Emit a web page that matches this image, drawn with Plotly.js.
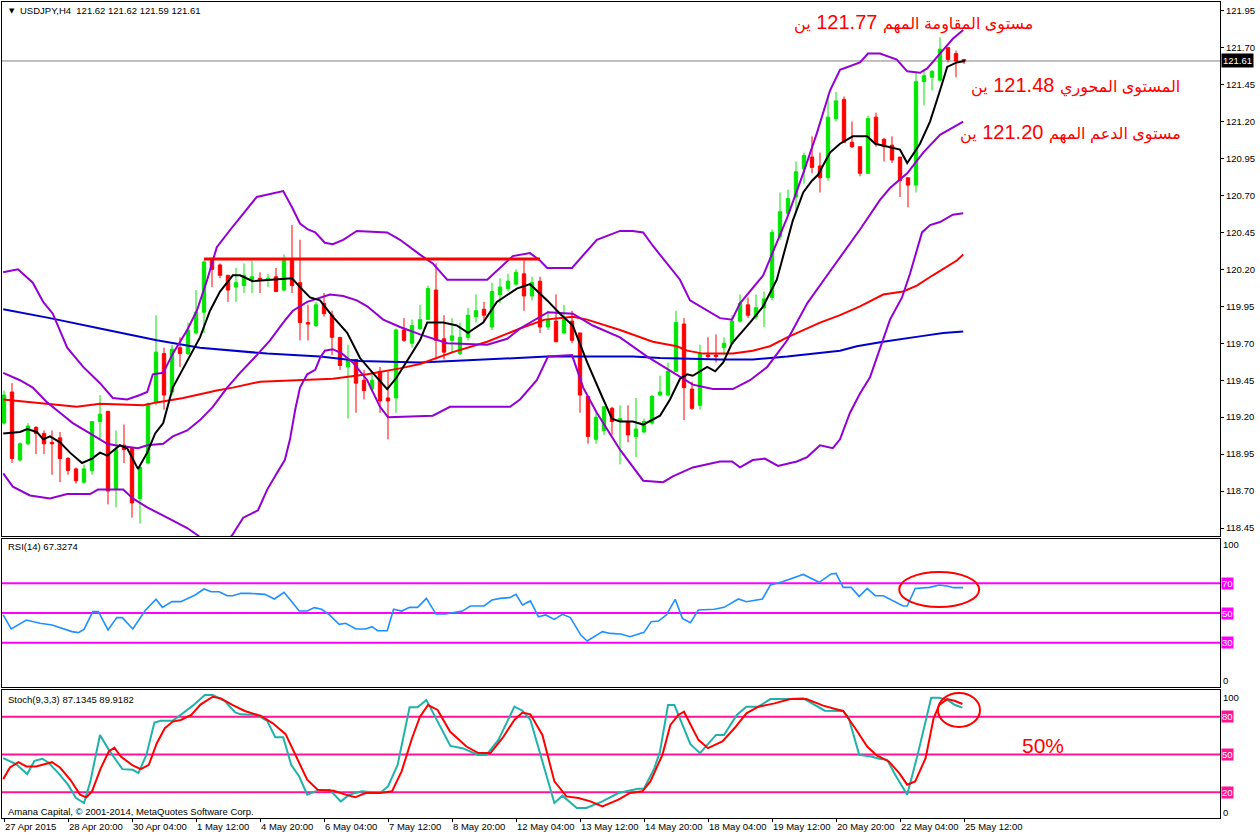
<!DOCTYPE html>
<html><head><meta charset="utf-8">
<script src="https://cdn.plot.ly/plotly-3.0.1.min.js"></script>
<style>html,body{margin:0;padding:0;background:#fff;}#chart{width:1260px;height:837px;}</style>
</head><body><div id="chart"></div>
<script>
// ---------- data ----------
const timeLabels = ['27 Apr 2015','28 Apr 20:00','30 Apr 04:00','1 May 12:00','4 May 20:00','6 May 04:00','7 May 12:00','8 May 20:00','12 May 04:00','13 May 12:00','14 May 20:00','18 May 04:00','19 May 12:00','20 May 20:00','22 May 04:00','25 May 12:00'];
const labelBars = [0,8,16,24,32,40,48,56,64,72,80,88,96,104,112,120];

const opens = [119.16,119.37,118.91,119.02,119.13,119.09,119.03,119.06,118.92,118.85,
118.76,118.84,119.17,119.24,118.71,119.01,118.99,118.65,118.89,119.30,
119.63,119.37,119.67,119.63,119.77,119.91,120.26,120.23,120.16,120.08,
120.09,120.13,120.14,120.13,120.15,120.06,120.26,120.11,119.84,119.82,
119.97,119.89,119.74,119.54,119.59,119.45,119.39,119.51,119.33,119.33,
119.79,119.70,119.80,119.86,120.06,119.73,119.72,119.63,119.74,119.88,
119.93,119.81,120.03,120.07,120.10,120.17,120.02,120.12,119.81,119.85,
119.77,119.85,119.77,119.34,119.05,119.11,119.26,119.17,119.17,119.07,
119.10,119.16,119.35,119.35,119.51,119.83,119.39,119.28,119.62,119.62,
119.67,119.70,119.85,119.96,119.88,119.94,120.01,120.42,120.58,120.69,
120.88,120.96,120.90,120.82,121.22,121.35,121.06,121.03,120.85,121.23,
121.08,121.04,120.96,120.82,120.77,121.47,121.50,121.48,121.70,121.66,
121.62];
const highs = [119.38,119.43,119.03,119.16,119.14,119.11,119.11,119.10,118.93,118.86,
118.88,119.17,119.35,119.24,119.11,119.15,119.00,118.88,119.30,119.89,
119.67,119.69,119.74,119.84,120.06,120.26,120.28,120.24,120.16,120.21,
120.24,120.26,120.18,120.17,120.21,120.30,120.50,120.40,119.96,119.98,
120.04,119.92,119.74,119.69,119.59,119.52,119.51,119.54,119.51,119.80,
119.87,119.86,119.96,120.09,120.24,119.89,119.87,119.84,119.94,120.03,
119.98,120.11,120.14,120.17,120.20,120.26,120.15,120.15,119.92,120.03,
119.96,119.92,119.77,119.34,119.23,119.27,119.27,119.28,119.28,119.33,
119.19,119.35,119.48,119.57,119.92,119.87,119.44,119.69,119.74,119.76,
119.74,119.89,120.03,120.01,120.03,120.05,120.47,120.72,120.74,120.93,
120.99,121.10,120.99,121.38,121.40,121.37,121.20,121.03,121.24,121.26,
121.09,121.10,120.96,120.82,121.53,121.55,121.55,121.77,121.70,121.68,
121.62];
const lows = [119.15,118.89,118.90,119.01,118.95,118.95,118.81,118.76,118.81,118.75,
118.75,118.81,119.05,118.61,118.59,118.89,118.52,118.48,118.88,119.28,
119.25,119.35,119.54,119.62,119.76,119.77,120.08,120.14,119.98,119.98,
120.04,120.04,120.04,120.08,120.05,120.05,120.04,119.72,119.72,119.81,
119.88,119.62,119.52,119.19,119.23,119.32,119.37,119.23,119.05,119.23,
119.71,119.67,119.79,119.86,119.59,119.59,119.64,119.62,119.72,119.84,
119.84,119.79,119.97,120.05,120.09,119.92,119.99,119.77,119.79,119.71,
119.76,119.70,119.23,119.02,119.02,119.08,119.08,118.88,119.03,118.93,
119.09,119.15,119.34,119.34,119.51,119.18,119.25,119.25,119.60,119.57,
119.62,119.69,119.84,119.87,119.86,119.81,119.99,120.40,120.57,120.58,
120.78,120.85,120.72,120.80,121.20,121.06,121.02,120.83,120.85,121.03,
120.93,120.92,120.69,120.62,120.72,121.31,121.41,121.47,121.60,121.50,
121.59];
const closes = [119.35,118.92,119.02,119.14,119.09,119.02,119.02,118.92,118.84,118.77,
118.85,119.17,119.22,118.70,118.98,118.98,118.62,118.86,119.29,119.64,
119.35,119.66,119.63,119.79,119.91,120.25,120.20,120.16,120.06,120.11,
120.16,120.15,120.13,120.14,120.05,120.26,120.09,119.84,119.83,119.96,
119.90,119.74,119.55,119.59,119.43,119.38,119.45,119.31,119.31,119.79,
119.72,119.82,119.86,120.07,119.72,119.64,119.75,119.74,119.89,119.92,
119.89,120.05,120.08,120.12,120.18,120.02,120.11,119.81,119.86,119.71,
119.86,119.72,119.35,119.07,119.20,119.27,119.17,119.19,119.08,119.12,
119.17,119.34,119.37,119.51,119.84,119.40,119.26,119.63,119.61,119.61,
119.70,119.85,119.97,119.89,119.94,120.00,120.45,120.59,120.68,120.86,
120.97,120.89,120.82,121.23,121.34,121.06,121.03,120.85,121.22,121.05,
121.03,120.94,120.80,120.77,121.47,121.51,121.54,121.69,121.62,121.61,
121.61];

const blackMaBars = [-0.1,2,2.9,4.1,4.9,5.75,7,8.25,9.75,11,12,12.9,14.5,15.4,16.75,17.9,18.9,19.9,21.1,22.4,23.6,24.5,25.75,27,28.6,29.5,31.1,33.6,36,37,38.25,39.5,41.1,42.9,44.5,46.1,47.9,49.1,50.75,52,52.9,54.9,56.6,58,59.9,61.6,64.1,65.75,67.9,69.5,71.1,72.9,74.75,76,77,78.6,79.9,82,83.25,84.5,85.4,86.1,87.9,88.9,89.9,91,93.25,94.9,96.6,98.6,99.9,101,101.75,103.25,104.5,106.1,107.9,108.9,112,112.9,114.5,115.75,117,117.9,119.1,120.1];
const blackMaVals = [119.09,119.10,119.12,119.10,119.05,119.07,119.03,118.96,118.89,118.92,118.96,118.94,119.01,118.99,118.85,118.96,119.09,119.16,119.40,119.53,119.66,119.74,119.92,120.05,120.16,120.16,120.12,120.13,120.14,120.08,120.01,119.99,119.88,119.77,119.60,119.50,119.39,119.47,119.61,119.72,119.84,119.84,119.82,119.77,119.84,119.98,120.07,120.10,119.99,119.90,119.82,119.57,119.34,119.19,119.17,119.17,119.15,119.21,119.32,119.46,119.49,119.48,119.54,119.51,119.57,119.70,119.84,119.95,120.13,120.53,120.72,120.80,120.84,120.99,121.05,121.10,121.10,121.05,121.01,120.92,121.05,121.20,121.41,121.57,121.60,121.61];

const redMaBars = [-0.1,3.6,9.1,12,17.4,19.1,22.4,26.6,28.6,32,37,41.1,45.4,49.5,52,56.1,60.4,64.5,67.6,71.1,72.9,77,81.1,84.1,85.4,87.4,91.1,93.6,95.75,97.9,102,104.5,107,109.9,112.4,114.1,116.1,119.1,119.9];
const redMaVals = [119.32,119.30,119.27,119.29,119.28,119.30,119.33,119.38,119.40,119.44,119.45,119.46,119.49,119.53,119.56,119.64,119.71,119.80,119.86,119.88,119.86,119.79,119.71,119.68,119.65,119.63,119.63,119.65,119.68,119.74,119.84,119.89,119.95,120.03,120.05,120.09,120.16,120.26,120.30];

const blueMaBars = [-0.1,5.75,12,19.1,24.5,32.9,39.5,44.5,52,60.4,67.9,78.6,82,89.5,93.6,97.9,104.5,106.6,109.9,114.9,117.4,119.9];
const blueMaVals = [119.93,119.87,119.80,119.72,119.67,119.63,119.61,119.58,119.57,119.59,119.61,119.61,119.60,119.59,119.59,119.61,119.65,119.68,119.71,119.75,119.77,119.78];

const bbUpperBars = [-0.1,1.75,3.6,4.9,6.1,7.9,9.9,12,13.6,15.4,17,17.9,18.6,19.9,21.1,22.9,24.1,25.4,26.6,28.6,31.6,34.1,34.9,36,37,38,38.9,40.1,41.1,42.4,44.1,47.9,49.5,52,53.6,55.4,60.4,63.6,65.75,67,67.9,71,74.1,77,78.6,79.9,81.1,84.5,85.75,89.5,91,92,94.9,97.9,99.9,101.6,103.25,104.5,107,108,109.5,111.6,112.9,114.5,115.4,117,118.6,119.9];
const bbUpperVals = [120.18,120.20,120.11,119.98,119.90,119.67,119.54,119.43,119.33,119.32,119.35,119.37,119.49,119.50,119.63,119.79,119.92,120.13,120.35,120.49,120.69,120.72,120.73,120.62,120.51,120.47,120.45,120.38,120.37,120.40,120.46,120.45,120.40,120.30,120.24,120.13,120.13,120.29,120.31,120.26,120.21,120.21,120.40,120.46,120.46,120.45,120.36,120.13,119.99,119.87,119.86,119.97,120.16,120.55,120.85,121.12,121.41,121.55,121.60,121.66,121.66,121.62,121.54,121.53,121.56,121.66,121.76,121.82];

const bbMidBars = [-0.1,2,3.6,5.4,7,8.6,10.75,12.9,13.9,15.4,16.75,17.9,19.9,21.1,22.9,24.5,26.1,27.9,29.5,31.6,33.25,34.9,36.1,37.9,39.5,40.75,42.4,44.1,45.4,47.4,49.5,52,55.4,60.4,62.9,64.5,68,71.1,73.6,77,80.4,83.6,86.1,88.6,91.1,93.25,95.4,97.9,100.4,102.9,104.5,107,109.5,110.75,112.9,114.9,117,119.9];
const bbMidVals = [119.50,119.45,119.40,119.30,119.23,119.16,119.09,119.02,119.01,119.00,118.99,119.01,119.02,119.07,119.11,119.18,119.27,119.40,119.50,119.62,119.72,119.84,119.92,119.98,120.01,120.03,120.02,119.99,119.95,119.86,119.81,119.76,119.70,119.69,119.73,119.80,119.91,119.90,119.82,119.74,119.61,119.50,119.42,119.39,119.39,119.45,119.54,119.72,119.97,120.16,120.28,120.47,120.67,120.75,120.85,120.99,121.11,121.20];

const bbLowerBars = [-0.1,1.1,3.25,5.75,7.9,10.75,11.75,14.9,16.1,17.9,20.4,22.9,24.25,26.4,28.5,29.9,31.75,32.9,34.1,35.1,35.75,36.4,37,37.9,38.9,39.5,40.1,41.1,42.25,43.6,45.4,47,48,52,53.6,55.75,63.25,64.5,66.6,68,71,72.4,74.1,77,79.9,82.4,83.6,86.1,89.5,91,92,93.6,95.1,96.75,99.1,100.4,102,103.6,104.5,105.75,107,108.25,109.5,110.75,112.25,113.25,114.75,115.75,117,118.6,119.9];
const bbLowerVals = [118.82,118.73,118.67,118.65,118.68,118.68,118.71,118.71,118.65,118.59,118.52,118.45,118.40,118.28,118.40,118.52,118.57,118.71,118.82,118.91,119.05,119.25,119.40,119.49,119.52,119.60,119.65,119.66,119.63,119.57,119.45,119.27,119.20,119.21,119.21,119.27,119.27,119.32,119.45,119.61,119.62,119.40,119.23,118.98,118.77,118.76,118.80,118.86,118.90,118.90,118.86,118.91,118.92,118.87,118.90,118.93,119.01,118.99,119.05,119.23,119.36,119.47,119.67,119.86,120.01,120.17,120.45,120.50,120.52,120.57,120.58];

const resistBars = [25, 67];
const resistLevel = 120.27;
const lastPrice = 121.61;
const priceTicks = [118.45,118.70,118.95,119.20,119.45,119.70,119.95,120.20,120.45,120.70,120.95,121.20,121.45,121.70,121.95];

const rsiBars = [-0.1,0.9,2.8,4.5,6,7,8.5,9.3,10,11.1,11.8,13,14.1,14.8,16.1,17.6,19,19.8,21,22.1,23.9,25,25.9,26.9,27.9,28.6,29.6,30.6,32.6,33.8,35,35.7,36.9,37.9,38.8,39.7,40.7,41.9,42.7,44,45.2,46,46.7,47.9,48.7,49.7,50.7,51.7,52.8,54,55.2,57.3,58.3,60,61,62,63.2,64,64.8,65.8,66.8,67.7,68.8,69.8,70.8,72.1,72.9,74.8,75.8,77.1,78.25,80,80.9,81.8,82.8,83.9,84.8,85.8,86.8,88.8,90,91.8,92.8,94.8,95.8,97.3,99.9,101.9,103.4,104,104.9,105.9,106.9,107.9,108.9,109.9,111.4,112.4,112.9,113.9,115.7,116.9,117.9,118.7,119.9];
const rsiVals = [48.7,39.3,45.3,43.1,41.9,40.2,37.5,36.8,39,50.9,50.9,38.6,46.9,46.9,39.3,51.3,59.2,53.8,57.6,57.6,62.1,66.1,64.3,64.3,61.6,61.6,63.2,63.2,62.5,59.4,63.9,59.4,51.3,51.3,53.6,52.5,48.7,42.4,43.1,39.3,39.3,40.8,38.1,38.1,52.5,51.3,53.8,53.8,59.8,49.3,49.3,51.3,54.7,54.7,58.7,59.8,60.3,62.5,55.4,58.1,47.5,48.7,45.7,49.1,46.9,35.2,31.2,37.5,36.3,35.9,34.1,37,44.2,44.6,48.7,59.2,46.4,43.5,52,52.5,53.8,59.4,57.6,59.4,68.8,71,75.9,70.6,76.2,76.6,67.2,67.2,61,66.5,61.6,61.6,57.6,54.7,54.7,66.5,67.2,68.8,68.1,67,67];
const rsiLevels = [70, 50, 30];

const stochKBars = [-0.1,1.5,2.9,3.8,4.8,5.5,6.8,8,9,10,10.8,12,13.1,14.8,16.1,16.8,17.8,18.8,19.6,21.1,22.6,23.6,25.1,26.1,27.6,28.9,29.6,31.6,32.9,33.9,34.9,35.9,36.9,37.9,38.9,40.7,42.1,43.2,44.7,47,48,49.2,50.7,51.7,52.8,54,55.8,57.3,59.3,60.3,61.8,63.8,64.8,65.8,67.1,68.8,69.8,71.6,72.8,74.8,76.8,78.25,79.25,80,81.3,82,83,83.8,85.8,87,89,90,91.6,92.8,94.3,95.8,98.3,99.9,101.4,102.6,104.9,105.6,106.9,108.4,109.4,110.4,111.4,112.9,114.2,115.2,115.9,116.9,117.9,118.9,119.8];
const stochKVals = [47.1,42.4,34.5,45,46.6,43.9,35.3,26.1,15.5,11.6,28.7,65.5,53.7,38.4,37.9,35.3,49.7,75.3,76.8,76.8,83.9,88.7,97.1,97.1,92.4,83.4,81.8,81.3,76.6,63.7,63.7,41.8,32.6,18.2,20.8,22.1,12.9,18.2,20.8,19.5,24.7,41.8,87.4,87.4,93.2,78.7,56.8,55,49.7,49.7,61.6,87.9,84.7,77.4,48.4,11.6,17.4,7.6,7.6,12.9,19.5,21.3,22.9,22.9,39.2,52.4,89.2,89.2,58.2,51.1,65.5,65.5,81.3,87.9,87.9,93.9,93.9,94.5,89.2,84.7,84.5,78.7,49.7,48.4,46.6,45.8,33.9,18.2,49.7,76.1,95,95,93.2,89.2,87.1];
const stochDBars = [-0.1,0.75,1.8,2.8,4,5.3,6,7,8.3,9.5,10.3,11,12.1,13.1,13.8,14.6,16.1,17.1,18.1,19.1,20.1,21.1,22.1,23.4,24.6,26.1,27.1,28.6,30.1,32.1,33.6,35.2,36.4,37.9,39.2,41.2,42.7,43.9,45.2,47,48.5,49.7,51,52,53,54.2,55.75,57.8,59.3,60.8,62.3,63.8,64.8,65.8,67.3,68.8,70.3,71.8,73.3,74.8,76.8,78.25,79.8,80.8,82.3,83.3,84.3,85,86.8,88,89.8,91.3,92.8,94.3,96.3,98.3,100.3,102.4,103.9,104.9,106.4,107.9,109.1,110.6,111.9,112.9,113.9,115.2,116.2,116.9,117.9,118.9,119.8];
const stochDVals = [30.5,39.7,43.9,40.5,40.5,42.4,43.9,39.7,30,18.2,16.1,20.8,39.2,52.4,55.5,48.4,41.3,38.4,41.8,58.9,70.8,76.1,77.4,81.3,89.7,95.8,94.5,89.2,84.5,80.5,74.7,66.1,49.7,30,22.1,21.3,18.2,16.1,19.5,19.5,20.8,36.6,62.9,80,89.2,85.3,68.2,56.3,51.1,51.1,62.9,77.4,83.2,81.8,65.5,28.7,16.8,15.5,12.9,8.9,14.2,19.5,20.8,28.7,49.7,73.4,81.3,83.9,61.6,55,60.3,70.8,82.6,87.9,90.5,93.9,93.9,88.7,86.1,84.5,70.8,56.3,49.2,44.5,35.3,26.1,28.7,47.1,78.7,89.2,93.9,92.4,90];
const stochLevels = [80, 50, 20];

const rsiMarkBars = [111.9, 121.9];
const rsiMarkVals = [54, 77.5];
const stochMarkBars = [116.75, 122];
const stochMarkVals = [71.8, 98.7];

const noteWords = ['مستوى المقاومة المهم', 'المستوى المحوري', 'مستوى الدعم المهم'];
const noteLevels = ['121.77', '121.48', '121.20'];
const noteUnit = 'ين';
const noteBars = [128.9, 147.25, 147.4];
const notePrices = [121.873, 121.447, 121.129];

// ---------- chart ----------
const bars = opens.map((_, i) => i);
const TXT = 'Liberation Sans, DejaVu Sans, sans-serif';
const line = (x, y, color, w, xa, ya) => ({type:'scatter', mode:'lines', x, y, xaxis:xa||'x', yaxis:ya||'y',
  line:{color, width:w, shape:'linear'}, hoverinfo:'skip'});

const traces = [
  {type:'candlestick', x:bars, open:opens, high:highs, low:lows, close:closes, xaxis:'x', yaxis:'y',
   increasing:{line:{color:'#00e600', width:1}, fillcolor:'#00e600'},
   decreasing:{line:{color:'#ff0000', width:1}, fillcolor:'#ff0000'},
   whiskerwidth:0, hoverinfo:'skip'},
  line(blueMaBars, blueMaVals, '#0000cd', 2),
  line(redMaBars, redMaVals, '#ff0000', 2),
  line(bbUpperBars, bbUpperVals, '#9400d3', 2),
  line(bbMidBars, bbMidVals, '#9400d3', 2),
  line(bbLowerBars, bbLowerVals, '#9400d3', 2),
  line(blackMaBars, blackMaVals, '#000000', 2),
  line(resistBars, [resistLevel, resistLevel], '#ff0000', 3),
  line(rsiBars, rsiVals, '#1e90ff', 1.6, 'x2', 'y2'),
  line(stochKBars, stochKVals, '#20b2aa', 2, 'x3', 'y3'),
  line(stochDBars, stochDVals, '#ff0000', 2, 'x3', 'y3')
];

const shapes = [
  {type:'line', xref:'x domain', x0:0, x1:1, yref:'y', y0:lastPrice, y1:lastPrice, line:{color:'#808080', width:1}, layer:'below'}
];
rsiLevels.forEach(v => shapes.push({type:'line', xref:'x2 domain', x0:0, x1:1, yref:'y2', y0:v, y1:v, line:{color:'#ff00ff', width:2}, layer:'below'}));
stochLevels.forEach(v => shapes.push({type:'line', xref:'x3 domain', x0:0, x1:1, yref:'y3', y0:v, y1:v, line:{color:'#ff1493', width:2}, layer:'below'}));
shapes.push({type:'circle', xref:'x2', yref:'y2', x0:rsiMarkBars[0], x1:rsiMarkBars[1], y0:rsiMarkVals[0], y1:rsiMarkVals[1], line:{color:'#ff0000', width:2}});
shapes.push({type:'circle', xref:'x3', yref:'y3', x0:stochMarkBars[0], x1:stochMarkBars[1], y0:stochMarkVals[0], y1:stochMarkVals[1], line:{color:'#ff0000', width:2}});

const annotations = [];
noteWords.forEach((w, k) => annotations.push({xref:'x', yref:'y', x:noteBars[k], y:notePrices[k],
  text:'<span style="font-size:16px">' + w + '</span> ' + noteLevels[k] + ' <span style="font-size:16px">' + noteUnit + '</span>',
  showarrow:false, xanchor:'right', yanchor:'middle', font:{family:TXT, size:20, color:'#ff0000'}}));
annotations.push({xref:'x3', yref:'y3', x:127, y:57.5, text:'50%', showarrow:false, xanchor:'left', yanchor:'middle',
  font:{family:TXT, size:21, color:'#ff0000'}});
rsiLevels.forEach(v => annotations.push({xref:'paper', yref:'y2', x:1, y:v, xanchor:'left', yanchor:'middle', xshift:1,
  text:String(v), showarrow:false, bgcolor:'#ff00ff', borderpad:0, font:{family:TXT, size:9.5, color:'#ffffff'}}));
stochLevels.forEach(v => annotations.push({xref:'paper', yref:'y3', x:1, y:v, xanchor:'left', yanchor:'middle', xshift:1,
  text:String(v), showarrow:false, bgcolor:'#ff1493', borderpad:0, font:{family:TXT, size:9.5, color:'#ffffff'}}));
annotations.push({xref:'paper', yref:'y', x:1, y:lastPrice, xanchor:'left', yanchor:'middle', xshift:1,
  text:lastPrice.toFixed(2), showarrow:false, bgcolor:'#000000', borderpad:1, font:{family:TXT, size:9.5, color:'#ffffff'}});
annotations.push({xref:'paper', yref:'paper', x:0.0041, y:0.989, xanchor:'left', yanchor:'middle', text:'▼', showarrow:false,
  font:{family:'DejaVu Sans', size:7, color:'#000'}});
annotations.push({xref:'paper', yref:'paper', x:0.0131, y:0.989, xanchor:'left', yanchor:'middle',
  text:'USDJPY,H4\u00a0\u00a0' + [opens[120], highs[120], lows[120], closes[120]].map(v => v.toFixed(2)).join(' '),
  showarrow:false, font:{family:TXT, size:9.5, color:'#000'}});
annotations.push({xref:'paper', yref:'paper', x:0.0033, y:0.3333, xanchor:'left', yanchor:'middle',
  text:'RSI(14) 67.3274', showarrow:false, font:{family:TXT, size:9.5, color:'#000'}});
annotations.push({xref:'paper', yref:'paper', x:0.0033, y:0.1458, xanchor:'left', yanchor:'middle',
  text:'Stoch(9,3,3) 87.1345 89.9182', showarrow:false, font:{family:TXT, size:9.5, color:'#000'}});
annotations.push({xref:'paper', yref:'paper', x:0.0033, y:0.0074, xanchor:'left', yanchor:'middle',
  text:'Amana Capital, © 2001-2014, MetaQuotes Software Corp.', showarrow:false, font:{family:TXT, size:9.5, color:'#000'}});

const frame = {showline:true, mirror:true, linecolor:'#000', linewidth:1, showgrid:false, zeroline:false};
const layout = {
  width:1260, height:837, margin:{l:2, r:40, t:2, b:19, pad:0},
  paper_bgcolor:'#fff', plot_bgcolor:'#fff', showlegend:false, boxgap:0.4,
  font:{family:TXT, size:9.5, color:'#000'},
  xaxis:Object.assign({}, frame, {anchor:'y', range:[-0.25, 152], showticklabels:false, ticks:'', rangeslider:{visible:false}}),
  xaxis2:Object.assign({}, frame, {anchor:'y2', matches:'x', showticklabels:false, ticks:''}),
  xaxis3:Object.assign({}, frame, {anchor:'y3', matches:'x', tickvals:labelBars, ticktext:timeLabels, ticks:'outside',
    ticklen:3, tickcolor:'#000', tickangle:0, ticklabelposition:'outside right', tickfont:{family:TXT, size:9.5, color:'#000'}}),
  yaxis:Object.assign({}, frame, {domain:[0.34559, 1], anchor:'x', side:'right', range:[118.396, 122.009],
    tickvals:priceTicks, ticktext:priceTicks.map(v => v.toFixed(2)), ticks:'outside', ticklen:3, tickcolor:'#000',
    tickfont:{family:TXT, size:9.5, color:'#000'}}),
  yaxis2:Object.assign({}, frame, {domain:[0.15993, 0.34252], anchor:'x2', side:'right', range:[0, 100],
    tickvals:[4.4, 95.6], ticktext:['0','100'], ticks:'', tickfont:{family:TXT, size:9.5, color:'#000'}}),
  yaxis3:Object.assign({}, frame, {domain:[0, 0.15686], anchor:'x3', side:'right', range:[-0.3, 101.1],
    tickvals:[3.9, 95.3], ticktext:['0','100'], ticks:'', tickfont:{family:TXT, size:9.5, color:'#000'}}),
  shapes, annotations
};
Plotly.newPlot('chart', traces, layout, {staticPlot:true, displayModeBar:false});
</script></body></html>
